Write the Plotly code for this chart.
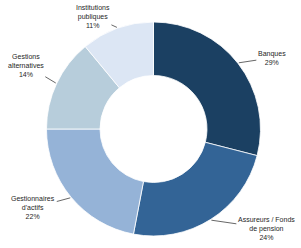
import math
import plotly.graph_objects as go

labels = ["Banques", "Assureurs / Fonds de pension", "Gestionnaires d'actifs",
          "Gestions alternatives", "Institutions publiques"]
label_text = ["Banques", "Assureurs / Fonds<br>de pension", "Gestionnaires<br>d'actifs",
              "Gestions<br>alternatives", "Institutions<br>publiques"]
values = [29, 24, 22, 14, 11]
colors = ["#1B4062", "#336496", "#95B3D7", "#B7CDDB", "#DCE6F4"]

W, H = 301, 248
CX, CY, R = 153.5, 129.0, 107.0

# text offsets (pixels) of each label block centre relative to its leader point
offsets = [(33, -5), (55, 8), (-37, 10), (-30, -18), (-24, -11)]

fig = go.Figure()
fig.add_trace(go.Pie(
    labels=labels, values=values, sort=False, direction="clockwise", rotation=0,
    hole=0.5, textinfo="none", hoverinfo="label+percent",
    marker=dict(colors=colors, line=dict(color="white", width=0.8)),
    domain=dict(x=[(CX - R) / W, (CX + R) / W], y=[1 - (CY + R) / H, 1 - (CY - R) / H]),
    showlegend=False,
))

total = sum(values)
cum = 0
for lab, txt, v, (ox, oy) in zip(labels, label_text, values, offsets):
    mid = (cum + v / 2) / total * 2 * math.pi
    cum += v
    px = CX + (R + 1) * math.sin(mid)
    py = CY - (R + 1) * math.cos(mid)
    pct = round(v / total * 100)
    fig.add_annotation(
        x=px / W, y=1 - py / H, xref="paper", yref="paper",
        text=f"{txt}<br>{pct}%", showarrow=True, arrowhead=0, arrowwidth=0.8,
        arrowcolor="#404040", ax=ox, ay=oy, standoff=0, startstandoff=0,
        font=dict(family="Liberation Sans", size=7, color="#262626"),
        align="center", borderpad=1,
    )

fig.update_layout(
    width=W, height=H, margin=dict(l=0, r=0, t=0, b=0),
    paper_bgcolor="white", plot_bgcolor="white",
)
fig.write_html("out.html")
